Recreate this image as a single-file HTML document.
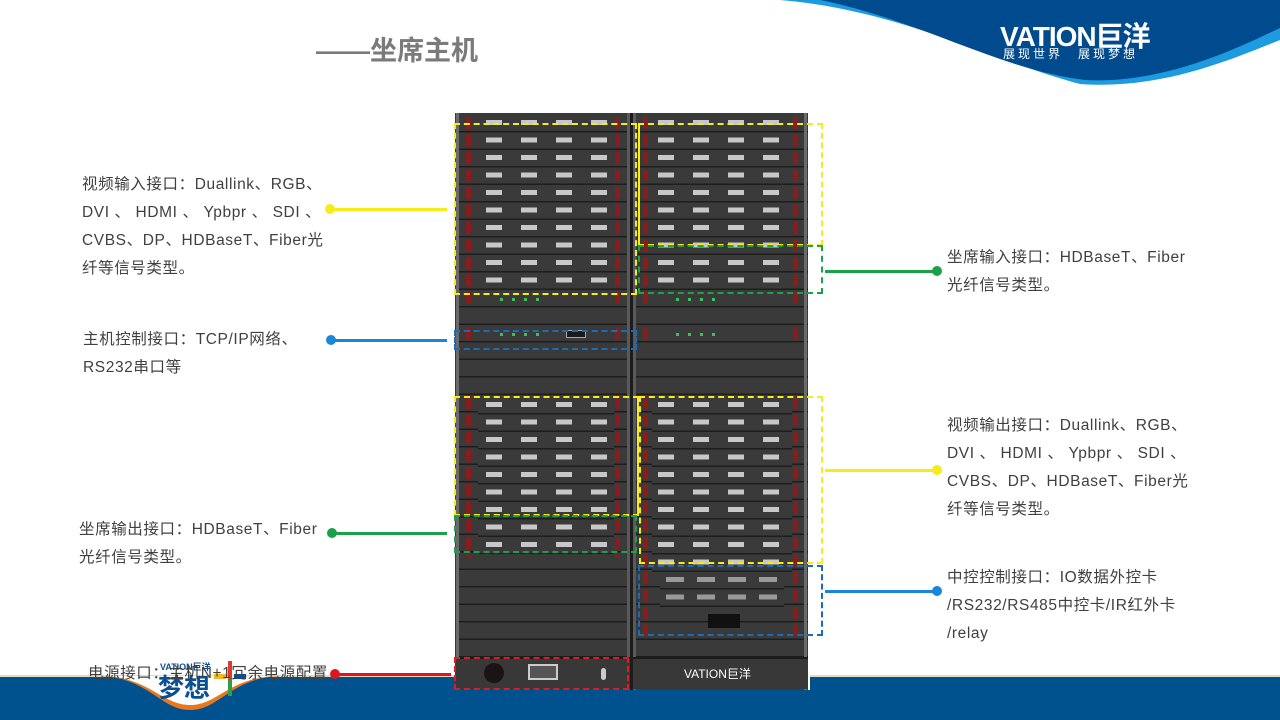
<!DOCTYPE html>
<html><head><meta charset="utf-8"><style>
*{margin:0;padding:0;box-sizing:border-box}
body{width:1280px;height:720px;position:relative;overflow:hidden;background:#fff;font-family:"Liberation Sans","Noto Sans CJK SC",sans-serif}
.a{position:absolute}
.t{position:absolute;font-size:15.5px;letter-spacing:0.6px;color:#404040;line-height:28px;white-space:nowrap}
.rows{position:absolute;background:repeating-linear-gradient(to bottom,#3a3a3a 0 16px,#1e1e1e 16px 17.5px)}
.conn{position:absolute}
.mask{position:absolute;inset:0;background:repeating-linear-gradient(to bottom,#3a3a3a 0 5px,transparent 5px 10px,#3a3a3a 10px 16px,#1e1e1e 16px 17.5px)}
.h{position:absolute;background:repeating-linear-gradient(to bottom,transparent 0 2px,#8a1c1c 2px 14px,transparent 14px 17.5px)}
.box{position:absolute;border:2px dashed}
.ln{position:absolute;height:3px}
.dot{position:absolute;width:10px;height:10px;border-radius:50%}
</style></head><body>

<svg class="a" style="left:0;top:0" width="1280" height="100">
<path d="M780 0 C900 10 990 60 1080 84 C1160 90 1230 60 1280 40 L1280 0 Z" fill="#1d9ae0"/>
<path d="M820 0 C920 20 1000 70 1085 80 C1160 84 1230 52 1280 28 L1280 0 Z" fill="#004b8d"/>
</svg>
<div class="a" style="left:1000px;top:15px;color:#fff;font-size:28px;font-weight:bold;letter-spacing:-1px">VATION巨洋</div>
<div class="a" style="left:1003px;top:45px;color:#fff;font-size:12px;letter-spacing:3px">展现世界　展现梦想</div>

<div class="a" style="left:316px;top:29px;font-size:27px;font-weight:bold;color:#7a7a7a">——坐席主机</div>

<svg class="a" style="left:0;top:660px" width="1280" height="60">
<rect x="0" y="15" width="1280" height="3" fill="#e8d9c0"/>
<rect x="0" y="17" width="1280" height="43" fill="#00528f"/>
<path d="M100 16 C150 18 160 50 190 50 C220 50 230 18 280 16 Z" fill="#e9781d"/>
<path d="M104 16 C150 18 162 45 190 45 C218 45 228 18 276 16 Z" fill="#fff"/>
</svg>
<div class="a" style="left:160px;top:660px;color:#0b4f93;font-size:9px;font-weight:bold">VATION巨洋</div>
<div class="a" style="left:158px;top:668px;color:#0b4f93;font-size:26px;font-weight:bold">梦想</div>
<div class="a" style="left:228px;top:661px;width:4px;height:35px;background:#e03a2a"></div>
<div class="a" style="left:228px;top:680px;width:4px;height:16px;background:#2ea043"></div>
<div class="a" style="left:214px;top:674px;width:12px;height:5px;background:#f2b81c"></div>
<div class="a" style="left:234px;top:674px;width:12px;height:5px;background:#0b4f93"></div>

<div class="a" style="left:455px;top:113px;width:355px;height:577px;background:#3a3a3a;border-right:2px solid #fff"></div>
<div class="rows" style="left:456px;top:115px;width:352px;height:542px"></div>
<div class="a" style="left:630px;top:113px;width:3px;height:577px;background:#1c1c1c"></div>
<div class="a" style="left:456px;top:113px;width:3px;height:577px;background:#6a6a6a"></div>
<div class="a" style="left:627px;top:113px;width:3px;height:577px;background:#5a5a5a"></div>
<div class="a" style="left:633px;top:113px;width:3px;height:577px;background:#5a5a5a"></div>
<div class="a" style="left:804px;top:113px;width:3px;height:577px;background:#6a6a6a"></div>

<div class="conn" style="left:478px;top:115px;width:136px;height:175px;background:repeating-linear-gradient(to right,transparent 0 8px,#c8c8c8 8px 24px,transparent 24px 35px)"><div class="mask"></div></div>
<div class="conn" style="left:652px;top:115px;width:140px;height:175px;background:repeating-linear-gradient(to right,transparent 0 6px,#c8c8c8 6px 22px,transparent 22px 35px)"><div class="mask"></div></div>
<div class="conn" style="left:478px;top:397px;width:136px;height:157px;background:repeating-linear-gradient(to right,transparent 0 8px,#c8c8c8 8px 24px,transparent 24px 35px)"><div class="mask"></div></div>
<div class="conn" style="left:652px;top:397px;width:140px;height:175px;background:repeating-linear-gradient(to right,transparent 0 6px,#c8c8c8 6px 22px,transparent 22px 35px)"><div class="mask"></div></div>
<div class="conn" style="left:660px;top:572px;width:124px;height:35px;background:repeating-linear-gradient(to right,transparent 0 6px,#9a9a9a 6px 24px,transparent 24px 31px)"><div class="mask"></div></div>
<div class="a" style="left:708px;top:614px;width:32px;height:14px;background:#111"></div>

<div class="a" style="left:500px;top:298px;width:40px;height:3px;background:repeating-linear-gradient(to right,#3fbf5a 0 3px,transparent 3px 12px)"></div>
<div class="a" style="left:676px;top:298px;width:40px;height:3px;background:repeating-linear-gradient(to right,#3fbf5a 0 3px,transparent 3px 12px)"></div>
<div class="a" style="left:500px;top:333px;width:40px;height:3px;background:repeating-linear-gradient(to right,#3fbf5a 0 3px,transparent 3px 12px)"></div>
<div class="a" style="left:676px;top:333px;width:40px;height:3px;background:repeating-linear-gradient(to right,#3fbf5a 0 3px,transparent 3px 12px)"></div>
<div class="a" style="left:566px;top:330px;width:20px;height:8px;background:#1a1a1a;border:1px solid #aaa"></div>

<div class="h" style="left:466px;top:115px;width:5px;height:193px"></div>
<div class="h" style="left:615px;top:115px;width:5px;height:193px"></div>
<div class="h" style="left:643px;top:115px;width:5px;height:193px"></div>
<div class="h" style="left:793px;top:115px;width:5px;height:193px"></div>
<div class="h" style="left:466px;top:325.5px;width:5px;height:17.5px"></div>
<div class="h" style="left:615px;top:325.5px;width:5px;height:17.5px"></div>
<div class="h" style="left:643px;top:325.5px;width:5px;height:17.5px"></div>
<div class="h" style="left:793px;top:325.5px;width:5px;height:17.5px"></div>
<div class="h" style="left:466px;top:395px;width:5px;height:162px"></div>
<div class="h" style="left:615px;top:395px;width:5px;height:162px"></div>
<div class="h" style="left:643px;top:395px;width:5px;height:240px"></div>
<div class="h" style="left:793px;top:395px;width:5px;height:240px"></div>

<div class="a" style="left:456px;top:657px;width:352px;height:32px;background:#383838;border-top:2px solid #1c1c1c"></div>
<div class="a" style="left:630px;top:657px;width:3px;height:32px;background:#1c1c1c"></div>
<div class="a" style="left:484px;top:663px;width:20px;height:20px;border-radius:50%;background:#1a1414"></div>
<div class="a" style="left:528px;top:664px;width:30px;height:16px;border:2px solid #ccc;background:#555"></div>
<div class="a" style="left:601px;top:668px;width:5px;height:12px;background:#ccc;border-radius:3px"></div>
<div class="a" style="left:684px;top:665px;color:#fff;font-size:12px">VATION巨洋</div>

<div class="box" style="left:454px;top:123px;width:183px;height:172px;border-color:#f5ec1a"></div>
<div class="box" style="left:638px;top:123px;width:185px;height:123px;border-color:#f5ec1a;border-left-style:solid"></div>
<div class="box" style="left:638px;top:245px;width:185px;height:49px;border-color:#1aa14a"></div>
<div class="box" style="left:454px;top:330px;width:183px;height:20px;border-color:#1a6db5"></div>
<div class="box" style="left:454px;top:396px;width:185px;height:120px;border-color:#f5ec1a;border-right-style:solid"></div>
<div class="box" style="left:639px;top:396px;width:184px;height:168px;border-color:#f5ec1a"></div>
<div class="box" style="left:454px;top:515px;width:183px;height:38px;border-color:#1aa14a"></div>
<div class="box" style="left:638px;top:565px;width:185px;height:71px;border-color:#1a6db5"></div>
<div class="box" style="left:454px;top:657px;width:175px;height:33px;border-color:#d91d24"></div>

<div class="ln" style="left:330px;top:208px;width:117px;background:#f5ec1a"></div><div class="dot" style="left:325px;top:204px;background:#f5ec1a"></div>
<div class="ln" style="left:331px;top:339px;width:116px;background:#1a86d9"></div><div class="dot" style="left:326px;top:335px;background:#1a86d9"></div>
<div class="ln" style="left:332px;top:532px;width:115px;background:#1aa14a"></div><div class="dot" style="left:327px;top:528px;background:#1aa14a"></div>
<div class="ln" style="left:335px;top:673px;width:116px;background:#e0161e"></div><div class="dot" style="left:330px;top:669px;background:#e0161e"></div>
<div class="ln" style="left:825px;top:270px;width:112px;background:#1aa14a"></div><div class="dot" style="left:932px;top:266px;background:#1aa14a"></div>
<div class="ln" style="left:825px;top:469px;width:112px;background:#f5ec1a"></div><div class="dot" style="left:932px;top:465px;background:#f5ec1a"></div>
<div class="ln" style="left:825px;top:590px;width:112px;background:#1a86d9"></div><div class="dot" style="left:932px;top:586px;background:#1a86d9"></div>

<div class="t" style="left:82px;top:171px">视频输入接口：Duallink、RGB、<br>DVI 、 HDMI 、 Ypbpr 、 SDI 、<br>CVBS、DP、HDBaseT、Fiber光<br>纤等信号类型。</div>
<div class="t" style="left:83px;top:326px">主机控制接口：TCP/IP网络、<br>RS232串口等</div>
<div class="t" style="left:79px;top:516px">坐席输出接口：HDBaseT、Fiber<br>光纤信号类型。</div>
<div class="t" style="left:88px;top:660px">电源接口：主机N+1冗余电源配置</div>
<div class="t" style="left:947px;top:244px">坐席输入接口：HDBaseT、Fiber<br>光纤信号类型。</div>
<div class="t" style="left:947px;top:412px">视频输出接口：Duallink、RGB、<br>DVI 、 HDMI 、 Ypbpr 、 SDI 、<br>CVBS、DP、HDBaseT、Fiber光<br>纤等信号类型。</div>
<div class="t" style="left:947px;top:564px">中控控制接口：IO数据外控卡<br>/RS232/RS485中控卡/IR红外卡<br>/relay</div>
</body></html>
